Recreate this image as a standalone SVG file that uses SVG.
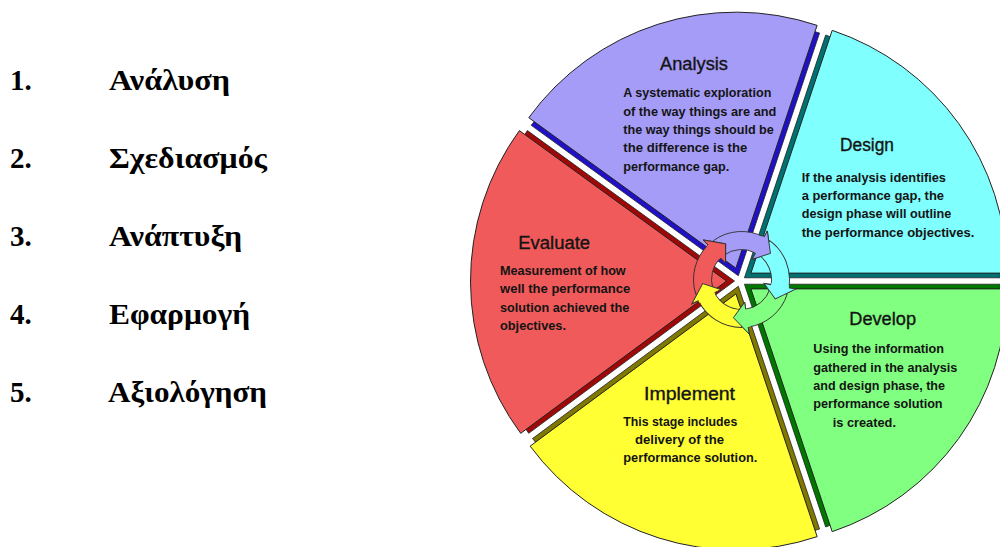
<svg xmlns="http://www.w3.org/2000/svg" width="1000" height="547" viewBox="0 0 1000 547">
<style>
.t{font-family:"Liberation Sans",Arial,sans-serif;fill:#141414}
.title{font-size:17.5px;stroke:#141414;stroke-width:0.35}
.body{font-size:12px;font-weight:bold}
.gr{font-family:"Liberation Serif","Times New Roman",serif;font-size:29px;font-weight:bold;fill:#000}
.wedge{stroke:#222;stroke-width:1}
.shadow{stroke:#222;stroke-width:0.8}
.arrow{stroke:#333;stroke-width:0.9}
.hl{fill:none;stroke:#333;stroke-width:0.9}
</style>
<defs>
<path id="arr" d="M -25.44 -40.70 A 48 48 0 0 1 25.44 -40.70 L 29.14 -46.64 L 30.73 -24.01 L 12.19 -19.50 L 15.90 -25.44 A 30 30 0 0 0 -15.90 -25.44 Z"/>
<path id="hf" d="M 23.27 -41.98 A 48 48 0 0 1 25.44 -40.70 L 29.14 -46.64 L 30.73 -24.01 L 12.19 -19.50 L 15.90 -25.44 A 30 30 0 0 0 14.54 -26.24 Z"/>
<path id="hl" d="M 25.44 -40.70 L 29.14 -46.64 L 30.73 -24.01 L 12.19 -19.50 L 15.90 -25.44"/>
</defs>
<rect width="1000" height="547" fill="#fff"/>
<g id="list">
<text class="gr" x="10" y="90">1.</text>
<text class="gr" x="109" y="90" textLength="121" lengthAdjust="spacingAndGlyphs">Ανάλυση</text>
<text class="gr" x="10" y="168">2.</text>
<text class="gr" x="109" y="168" textLength="158" lengthAdjust="spacingAndGlyphs">Σχεδιασμός</text>
<text class="gr" x="10" y="246">3.</text>
<text class="gr" x="109" y="246" textLength="133" lengthAdjust="spacingAndGlyphs">Ανάπτυξη</text>
<text class="gr" x="10" y="324">4.</text>
<text class="gr" x="109" y="324" textLength="141" lengthAdjust="spacingAndGlyphs">Εφαρμογή</text>
<text class="gr" x="10" y="402">5.</text>
<text class="gr" x="108" y="402" textLength="159" lengthAdjust="spacingAndGlyphs">Αξιολόγηση</text>
</g>
<g id="analysis">
<path class="shadow" fill="#2010c8" d="M 738.32 275.76 L 531.21 125.29 A 256 256 0 0 1 819.55 33.0 Z"/>
<path class="wedge" fill="#a59cf7" d="M 735.88 268.14 L 528.77 117.67 A 256 256 0 0 1 817.11 25.37 Z"/>
<text class="t title" x="660" y="70" textLength="68" lengthAdjust="spacingAndGlyphs">Analysis</text>
<text class="t body" x="623.3" y="97.3" textLength="148" lengthAdjust="spacingAndGlyphs">A systematic exploration</text>
<text class="t body" x="623.3" y="115.7" textLength="153" lengthAdjust="spacingAndGlyphs">of the way things are and</text>
<text class="t body" x="623.3" y="134" textLength="150.5" lengthAdjust="spacingAndGlyphs">the way things should be</text>
<text class="t body" x="623.3" y="152.3" textLength="124" lengthAdjust="spacingAndGlyphs">the difference is the</text>
<text class="t body" x="623.3" y="170.7" textLength="106" lengthAdjust="spacingAndGlyphs">performance gap.</text>
</g>
<g id="design">
<path class="shadow" fill="#007070" d="M 744.46 277.79 L 825.69 35.02 A 256 256 0 0 1 1000.46 277.79 Z"/>
<path class="wedge" fill="#80ffff" d="M 750.96 273.11 L 832.19 30.34 A 256 256 0 0 1 1006.96 273.11 Z"/>
<text class="t title" x="840" y="151" textLength="54" lengthAdjust="spacingAndGlyphs">Design</text>
<text class="t body" x="801.7" y="181.7" textLength="144.3" lengthAdjust="spacingAndGlyphs">If the analysis identifies</text>
<text class="t body" x="801.7" y="200" textLength="142.3" lengthAdjust="spacingAndGlyphs">a performance gap, the</text>
<text class="t body" x="801.7" y="218.3" textLength="149.7" lengthAdjust="spacingAndGlyphs">design phase will outline</text>
<text class="t body" x="801.7" y="236.7" textLength="172.7" lengthAdjust="spacingAndGlyphs">the performance objectives.</text>
</g>
<g id="develop">
<path class="shadow" fill="#007800" d="M 744.46 284.21 L 1000.46 284.21 A 256 256 0 0 1 825.69 526.98 Z"/>
<path class="wedge" fill="#80ff80" d="M 750.96 288.89 L 1006.96 288.89 A 256 256 0 0 1 832.19 531.66 Z"/>
<text class="t title" x="849.3" y="325" textLength="66.7" lengthAdjust="spacingAndGlyphs">Develop</text>
<text class="t body" x="813.3" y="353.3" textLength="130.7" lengthAdjust="spacingAndGlyphs">Using the information</text>
<text class="t body" x="813.3" y="371.7" textLength="144" lengthAdjust="spacingAndGlyphs">gathered in the analysis</text>
<text class="t body" x="813.3" y="390" textLength="131.7" lengthAdjust="spacingAndGlyphs">and design phase, the</text>
<text class="t body" x="813.3" y="408.3" textLength="129.3" lengthAdjust="spacingAndGlyphs">performance solution</text>
<text class="t body" x="832.7" y="426.7" textLength="63.3" lengthAdjust="spacingAndGlyphs">is created.</text>
</g>
<g id="implement">
<path class="shadow" fill="#807800" d="M 738.35 286.25 L 819.58 529.02 A 256 256 0 0 1 532.56 438.52 Z"/>
<path class="wedge" fill="#ffff33" d="M 735.94 293.88 L 817.17 536.65 A 256 256 0 0 1 530.15 446.15 Z"/>
<text class="t title" x="644" y="400" textLength="91" lengthAdjust="spacingAndGlyphs">Implement</text>
<text class="t body" x="623.3" y="426" textLength="114" lengthAdjust="spacingAndGlyphs">This stage includes</text>
<text class="t body" x="635" y="444" textLength="89" lengthAdjust="spacingAndGlyphs">delivery of the</text>
<text class="t body" x="623.3" y="462.3" textLength="134" lengthAdjust="spacingAndGlyphs">performance solution.</text>
</g>
<g id="evaluate">
<path class="shadow" fill="#a00808" d="M 734.50 281.02 L 528.71 433.29 A 256 256 0 0 1 527.39 130.55 Z"/>
<path class="wedge" fill="#f05a5a" d="M 726.50 281.06 L 520.71 433.33 A 256 256 0 0 1 519.39 130.59 Z"/>
<text class="t title" x="518.3" y="249.3" textLength="71.7" lengthAdjust="spacingAndGlyphs">Evaluate</text>
<text class="t body" x="500" y="275" textLength="125.7" lengthAdjust="spacingAndGlyphs">Measurement of how</text>
<text class="t body" x="500" y="293.3" textLength="130.3" lengthAdjust="spacingAndGlyphs">well the performance</text>
<text class="t body" x="500" y="311.7" textLength="129.3" lengthAdjust="spacingAndGlyphs">solution achieved the</text>
<text class="t body" x="500" y="330" textLength="66" lengthAdjust="spacingAndGlyphs">objectives.</text>
</g>
<g id="cycle">
<use href="#arr" class="arrow" fill="#a59cf7" transform="translate(741.5 279.5) rotate(-4)"/>
<use href="#arr" class="arrow" fill="#80ffff" transform="translate(741.5 279.5) rotate(68)"/>
<use href="#arr" class="arrow" fill="#80ff80" transform="translate(741.5 279.5) rotate(140)"/>
<use href="#arr" class="arrow" fill="#ffff33" transform="translate(741.5 279.5) rotate(212)"/>
<use href="#arr" class="arrow" fill="#f05a5a" transform="translate(741.5 279.5) rotate(284)"/>
<use href="#hf" fill="#a59cf7" transform="translate(741.5 279.5) rotate(-4)"/>
<use href="#hl" class="hl" transform="translate(741.5 279.5) rotate(-4)"/>
<use href="#hf" fill="#80ffff" transform="translate(741.5 279.5) rotate(68)"/>
<use href="#hl" class="hl" transform="translate(741.5 279.5) rotate(68)"/>
<use href="#hf" fill="#80ff80" transform="translate(741.5 279.5) rotate(140)"/>
<use href="#hl" class="hl" transform="translate(741.5 279.5) rotate(140)"/>
<use href="#hf" fill="#ffff33" transform="translate(741.5 279.5) rotate(212)"/>
<use href="#hl" class="hl" transform="translate(741.5 279.5) rotate(212)"/>
<use href="#hf" fill="#f05a5a" transform="translate(741.5 279.5) rotate(284)"/>
<use href="#hl" class="hl" transform="translate(741.5 279.5) rotate(284)"/>
</g>
</svg>
